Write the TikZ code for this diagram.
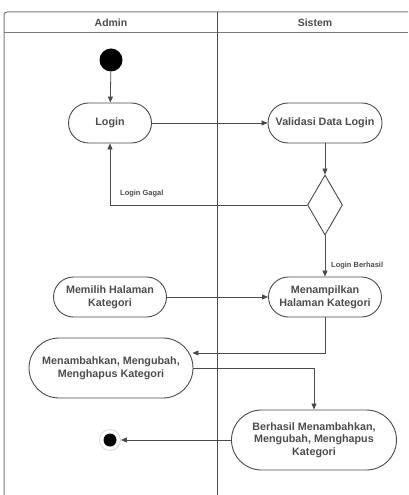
\documentclass[tikz,border=0pt]{standalone}
\usepackage{fontspec}
\setmainfont{Liberation Sans}
\usetikzlibrary{shapes.geometric,arrows.meta}
\definecolor{edge}{HTML}{4A4A4A}
\definecolor{lane}{HTML}{7A7A7A}
\definecolor{txt}{HTML}{4D4D4D}
\tikzset{
  act/.style={draw=edge, line width=0.9bp, rectangle, rounded corners=20bp,
    minimum height=40bp, align=center, text=txt, inner sep=2bp,
    font=\bfseries\fontsize{10.8}{12.8}\selectfont},
  acttall/.style={act, rounded corners=30bp, minimum height=60bp},
  flow/.style={draw=edge, line width=0.8bp, -{Triangle[length=6bp,width=5bp]}},
  lbl/.style={text=txt, font=\bfseries\fontsize{7.5}{8.5}\selectfont, inner sep=1bp},
  lanehead/.style={text=txt, font=\bfseries\fontsize{10.5}{12}\selectfont},
  decision/.style={draw=edge, line width=0.9bp, diamond, minimum width=35bp,
    minimum height=60bp, inner sep=0pt, shape aspect=0.58},
}
\begin{document}
\begin{tikzpicture}[x=1bp,y=-1bp]
\useasboundingbox (0,0) rectangle (408,495);
\fill[white] (0,0) rectangle (408,495);

% swimlanes
\draw[lane, line width=1bp, rounded corners=3bp] (4,495) -- (4,12) -- (408,12);
\draw[lane, line width=1bp] (4,33) -- (408,33);
\draw[edge, line width=0.9bp] (217,12) -- (217,495);
\node[lanehead] (hadmin) at (111,22.5) {Admin};
\node[lanehead] (hsistem) at (315,22.5) {Sistem};

% initial and final states
\node[circle, fill=black, minimum size=23bp, inner sep=0pt] (start) at (111,60) {};
\node[circle, draw=black!15, line width=0.8bp, minimum size=21bp, inner sep=0pt] (endring) at (110,440) {};
\node[circle, fill=black, minimum size=13bp, inner sep=0pt] (end) at (110,440) {};

% activities
\node[act, minimum width=83bp] (login) at (110,123) {Login};
\node[act, minimum width=114bp] (validasi) at (325,123) {Validasi Data Login};
\node[decision] (dec) at (325,205) {};
\node[act, minimum width=113bp] (memilih) at (110,297) {Memilih Halaman\\Kategori};
\node[act, minimum width=113bp] (menampilkan) at (325,297) {Menampilkan\\Halaman Kategori};
\node[acttall, minimum width=164bp] (menambah) at (111,368) {Menambahkan, Mengubah,\\Menghapus Kategori};
\node[acttall, minimum width=165bp] (berhasil) at (314,440) {Berhasil Menambahkan,\\Mengubah, Menghapus\\Kategori};

% flows
\draw[flow] (start) -- (login);
\draw[flow] (login) -- (validasi);
\draw[flow] (validasi) -- (dec);
\draw[flow] (dec.west) -| (login.south);
\node[lbl, anchor=west] (lgagal) at (119,194) {Login Gagal};
\draw[flow] (dec.south) -- (menampilkan.north);
\node[lbl, anchor=west] (lberhasil) at (330,266) {Login Berhasil};
\draw[flow] (memilih) -- (menampilkan);
\draw[flow] (menampilkan.south) |- ([yshift=15bp,xshift=-1bp]menambah.east);
\draw[flow] (menambah.east) -| (berhasil.north);
\draw[flow] (berhasil.west) -- (endring.east);
\end{tikzpicture}
\end{document}
